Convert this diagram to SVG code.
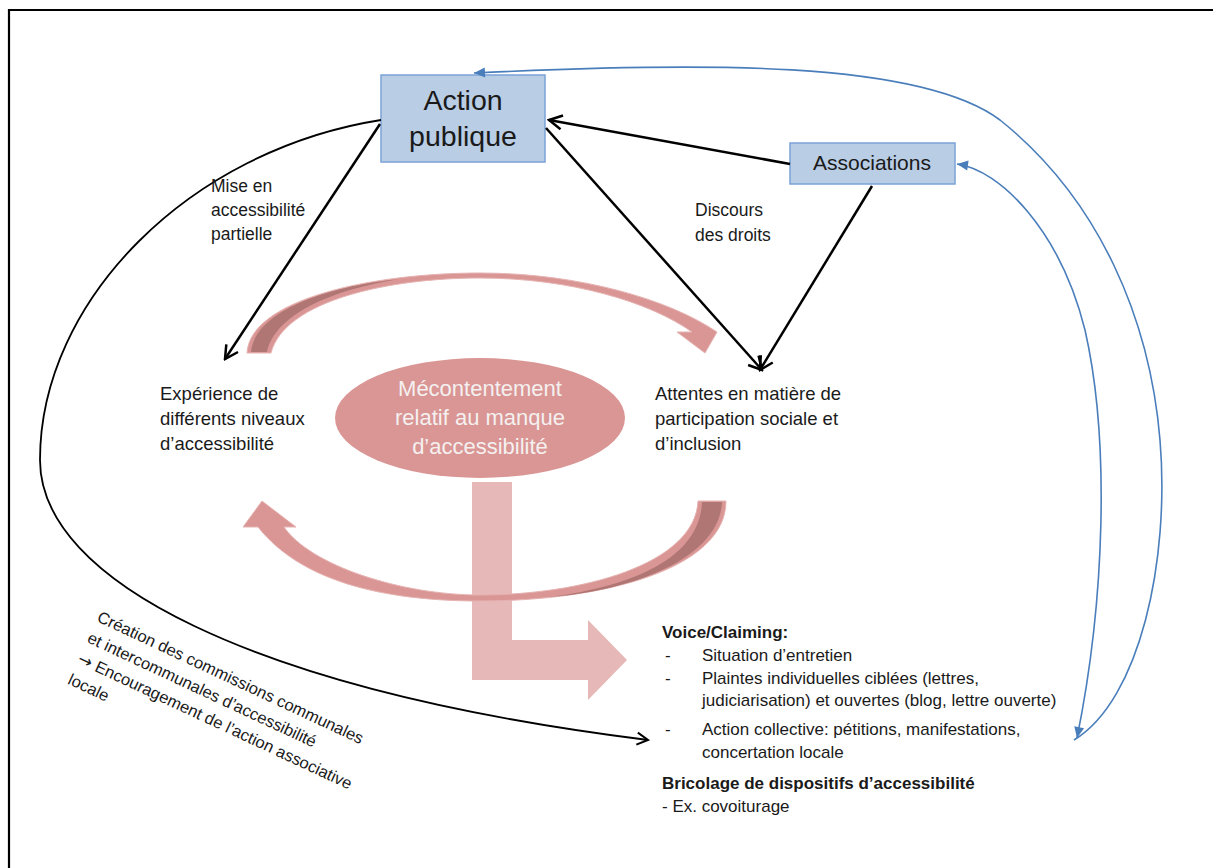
<svg xmlns="http://www.w3.org/2000/svg" width="1213" height="868" viewBox="0 0 1213 868">
<defs>
<style>
text{font-family:"Liberation Sans",Arial,sans-serif;fill:#1a1a1a}
.box{fill:#b9cde5;stroke:#7ba3d6;stroke-width:1.5}
.lbl{font-size:17.5px}
.node{font-size:18.5px}
.blk{font-size:17px}
.b{font-weight:bold}
.blk2{font-size:16.5px}
.arc{fill:#d99694;stroke:#e6b3b2;stroke-width:1}
.dark{fill:#b07674}
.blk-line{fill:none;stroke:#000;stroke-width:2.5}
.blue{fill:none;stroke:#4a7ebb;stroke-width:1.6}
</style>
<marker id="ah" markerUnits="userSpaceOnUse" viewBox="-16 -9 18 18" refX="0" refY="0" markerWidth="18" markerHeight="18" orient="auto">
<path d="M-13,-7 L0,0 L-13,7" fill="none" stroke="#000" stroke-width="2.5"/>
</marker>
<marker id="ahs" markerUnits="userSpaceOnUse" viewBox="-16 -9 18 18" refX="0" refY="0" markerWidth="18" markerHeight="18" orient="auto">
<path d="M-11,-6 L0,0 L-11,6" fill="none" stroke="#000" stroke-width="2"/>
</marker>
<marker id="bh" markerUnits="userSpaceOnUse" viewBox="-12 -7 14 14" refX="0" refY="0" markerWidth="14" markerHeight="14" orient="auto-start-reverse">
<path d="M-11,-5 L0,0 L-11,5 Z" fill="#4a7ebb"/>
</marker>
</defs>
<rect width="1213" height="868" fill="#fff"/>
<path d="M9,868 V10 H1213" fill="none" stroke="#000" stroke-width="2.2"/>

<g id="cycle">
<polygon points="472,482 512,482 512,640 588,640 588,620 627,660 588,700 588,680 472,680" fill="#e6b8b7"/>
<path class="arc" d="M247,353 C 250,300 370,273 480,273 C 580,273 670,300 717,332 L705,353 L677,332 L692,332 C 650,302 570,278 480,278 C 390,278 285,300 271,353 Z"/>
<path class="dark" d="M251,352 C 255,310 330,286 400,279 C 330,290 275,315 267,352 Z"/>
<path class="arc" d="M726,501 C 726,570 600,601 480,601 C 380,601 300,580 258,527 L243,527 L262,501 L296,527 L284,527 C 310,565 400,595 480,595 C 580,595 695,565 698,501 Z"/>
<path class="dark" d="M702,502 L722,502 C 720,555 640,590 550,597 C 640,585 700,555 702,502 Z"/>
</g>

<g id="mecontentement">
<ellipse cx="480" cy="418" rx="145" ry="60" fill="#d99694"/>
<text text-anchor="middle" font-size="22" style="fill:#f5f0f0"><tspan x="480" y="396">Mécontentement</tspan><tspan x="480" y="425">relatif au manque</tspan><tspan x="480" y="454">d’accessibilité</tspan></text>
</g>

<g id="action-publique">
<rect class="box" x="381" y="75" width="164" height="87"/>
<text text-anchor="middle" font-size="28.5"><tspan x="463" y="110">Action</tspan><tspan x="463" y="146">publique</tspan></text>
</g>

<g id="associations">
<rect class="box" x="790" y="143" width="165" height="41"/>
<text x="872" y="170" text-anchor="middle" font-size="21">Associations</text>
</g>

<g id="experience">
<text class="node"><tspan x="160" y="400">Expérience de</tspan><tspan x="160" y="425">différents niveaux</tspan><tspan x="160" y="450">d’accessibilité</tspan></text>
</g>

<g id="attentes">
<text class="node"><tspan x="655" y="400">Attentes en matière de</tspan><tspan x="655" y="425">participation sociale et</tspan><tspan x="655" y="450">d’inclusion</tspan></text>
</g>

<g id="voice">
<text class="blk b" x="662" y="638">Voice/Claiming:</text>
<text class="blk"><tspan x="665" y="661">-</tspan><tspan x="702" y="661">Situation d’entretien</tspan></text>
<text class="blk"><tspan x="665" y="684">-</tspan><tspan x="702" y="684">Plaintes individuelles ciblées (lettres,</tspan><tspan x="702" y="706">judiciarisation) et ouvertes (blog, lettre ouverte)</tspan></text>
<text class="blk"><tspan x="665" y="735">-</tspan><tspan x="702" y="735">Action collective: pétitions, manifestations,</tspan><tspan x="702" y="758">concertation locale</tspan></text>
<text class="blk b" x="662" y="789">Bricolage de dispositifs d’accessibilité</text>
<text class="blk" x="662" y="812">- Ex. covoiturage</text>
</g>

<g id="connectors">
<line class="blk-line" x1="380" y1="124" x2="225" y2="359" marker-end="url(#ah)"/>
<line class="blk-line" x1="790" y1="164" x2="549" y2="120" marker-end="url(#ah)"/>
<line class="blk-line" x1="546" y1="128" x2="762" y2="370" marker-end="url(#ah)"/>
<line class="blk-line" x1="872" y1="186" x2="760" y2="370" marker-end="url(#ah)"/>
<path d="M381,120 C 190,150 40,300 40,460 C 40,580 250,690 648,740" fill="none" stroke="#000" stroke-width="1.8" marker-end="url(#ahs)"/>
<path class="blue" d="M1074,740 C 1140,700 1170,560 1160,440 C 1150,320 1100,200 1000,120 C 920,60 700,62 474,73" marker-end="url(#bh)"/>
<path class="blue" d="M957,164 C 1000,170 1060,230 1085,330 C 1110,440 1105,600 1077,738" marker-start="url(#bh)" marker-end="url(#bh)"/>
<text class="lbl"><tspan x="211" y="192">Mise en</tspan><tspan x="211" y="216">accessibilité</tspan><tspan x="211" y="240">partielle</tspan></text>
<text class="lbl"><tspan x="695" y="216">Discours</tspan><tspan x="695" y="241">des droits</tspan></text>
<text class="blk2" transform="translate(96,621) rotate(25)"><tspan x="0" y="0">Création des commissions communales</tspan><tspan x="0" y="23">et intercommunales d’accessibilité</tspan><tspan x="0" y="46" style="font-family:'DejaVu Sans',sans-serif;font-size:17px">→</tspan><tspan> Encouragement de l’action associative</tspan><tspan x="0" y="69">locale</tspan></text>
</g>
</svg>
